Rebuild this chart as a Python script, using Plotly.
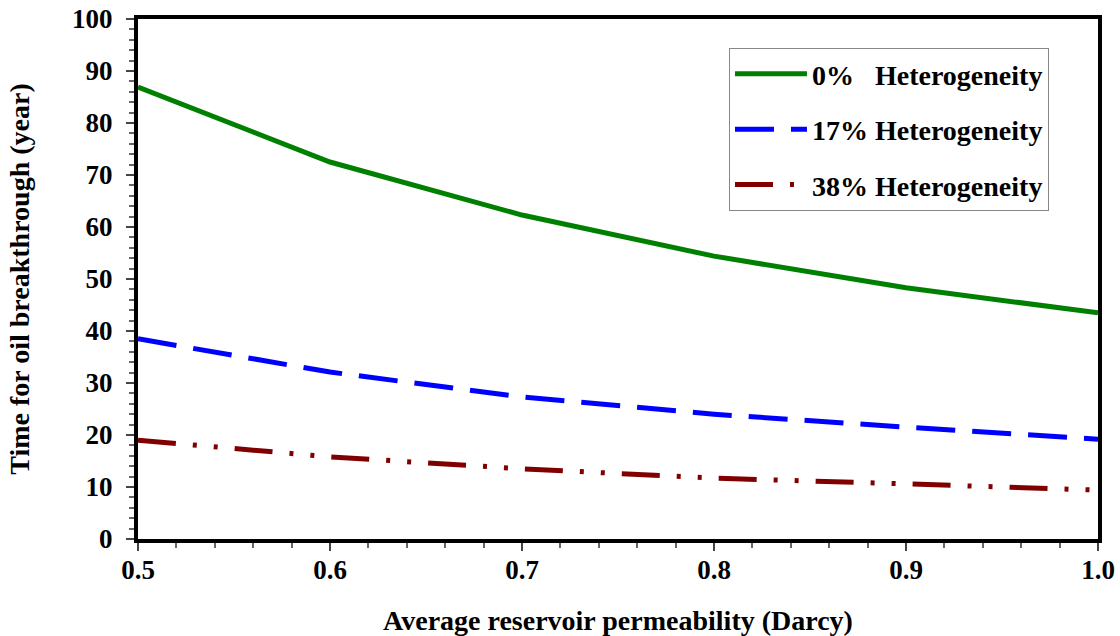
import plotly.graph_objects as go

# Average reservoir permeability (Darcy)
permeability = [0.5, 0.6, 0.7, 0.8, 0.9, 1.0]

# Time for oil breakthrough (year) for each heterogeneity level
het_0 = [86.9, 72.5, 62.3, 54.4, 48.3, 43.5]
het_17 = [38.5, 32.1, 27.3, 24.0, 21.5, 19.2]
het_38 = [19.0, 15.8, 13.5, 11.7, 10.6, 9.4]

series_names = ["0%   Heterogeneity", "17% Heterogeneity", "38% Heterogeneity"]

FONT = "Liberation Serif"

fig = go.Figure()
fig.add_trace(go.Scatter(
    x=permeability, y=het_0, mode="lines", name=series_names[0], legendgroup="g0",
    line=dict(color="#008000", width=5, dash="solid"),
))
fig.add_trace(go.Scatter(
    x=permeability, y=het_17, mode="lines", name=series_names[1], legendgroup="g17",
    line=dict(color="#0000FF", width=5, dash="39px,17px"),
))
fig.add_trace(go.Scatter(
    x=permeability, y=het_38, mode="lines", name=series_names[2], legendgroup="g38",
    line=dict(color="#800000", width=5, dash="38px,17px,4px,17px,4px,17px"),
))

axis_common = dict(
    showline=True, linewidth=4, linecolor="black", mirror=True,
    ticks="outside", ticklen=8, tickwidth=1.5, tickcolor="#444",
    showgrid=False, zeroline=False, automargin=False,
    tickfont=dict(family=FONT, size=27, color="black", weight="bold"),
)

title_font = dict(family=FONT, size=28, color="black", weight="bold")

fig.update_xaxes(
    range=[0.5, 1.0], dtick=0.1, tick0=0.5, tickformat=".1f",
    minor=dict(dtick=0.02, ticks="outside", ticklen=5, tickcolor="#666"),
    ticklabelstandoff=-4,
    title=dict(text="Average reservoir permeability (Darcy)", standoff=36, font=title_font),
    **axis_common,
)
fig.update_yaxes(
    range=[0, 100], dtick=10,
    minor=dict(dtick=2, ticks="outside", ticklen=5, tickcolor="#666"),
    ticklabelstandoff=8,
    title=dict(text="Time for oil breakthrough (year)", standoff=35, font=title_font),
    **axis_common,
)

fig.update_layout(
    width=1120, height=636,
    margin=dict(l=138, r=22, t=19, b=97),
    paper_bgcolor="white", plot_bgcolor="white",
    showlegend=True,
    legend=dict(
        x=0.6156, y=0.944, xanchor="left", yanchor="top",
        bgcolor="white", bordercolor="#888", borderwidth=1,
        font=dict(family=FONT, size=28, color="black", weight="bold"),
        itemwidth=72, tracegroupgap=16,
    ),
)

fig.write_html("out.html")
